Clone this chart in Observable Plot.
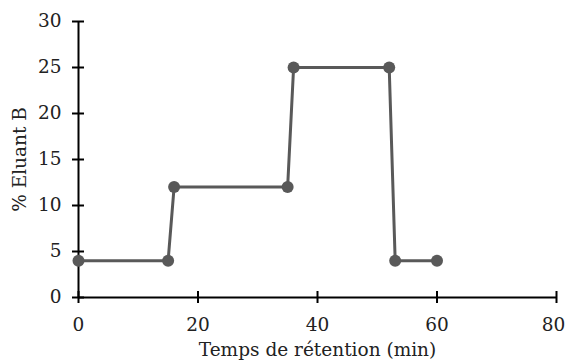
<!DOCTYPE html>
<html>
<head>
<meta charset="utf-8">
<script src="https://cdn.jsdelivr.net/npm/d3@7"></script>
<script src="https://cdn.jsdelivr.net/npm/@observablehq/plot@0.6"></script>
<style>
  html, body { margin: 0; padding: 0; background: #fff; }
  #chart svg text { font-family: "DejaVu Serif", serif; }
</style>
</head>
<body>
<div id="chart"></div>
<script>
const times = [0, 15, 16, 35, 36, 52, 53, 60];
const eluantB = [4, 4, 12, 12, 25, 25, 4, 4];
const xTicks = [0, 20, 40, 60, 80];
const yTicks = [0, 5, 10, 15, 20, 25, 30];

const data = times.map((t, i) => ({t, b: eluantB[i]}));
const fs = 18.5;

const chart = Plot.plot({
  width: 565,
  height: 361,
  marginLeft: 78,
  marginRight: 9,
  marginTop: 21,
  marginBottom: 64,
  style: {fontFamily: "DejaVu Serif", fontSize: fs + "px", color: "#222", background: "#fff"},
  x: {domain: [0, 80], ticks: xTicks},
  y: {domain: [0, 30], ticks: yTicks},
  marks: [
    Plot.ruleY([0], {stroke: "#000", strokeWidth: 2}),
    Plot.ruleX([0], {stroke: "#000", strokeWidth: 2}),
    Plot.ruleX(xTicks, {x: d => d, y1: 0, y2: 0, insetTop: -6, insetBottom: -6, stroke: "#000", strokeWidth: 2}),
    Plot.ruleY(yTicks, {y: d => d, x1: 0, x2: 0, insetLeft: -6, insetRight: -6, stroke: "#000", strokeWidth: 2}),
    Plot.axisX(xTicks.slice(0, -1), {tickSize: 0, tickPadding: 20, fontSize: fs, label: "Temps de rétention (min)", labelAnchor: "center", labelArrow: "none", labelOffset: 58}),
    Plot.axisX(xTicks.slice(-1), {tickSize: 0, tickPadding: 20, fontSize: fs, dx: -3, label: null}),
    Plot.axisY(yTicks, {tickSize: 0, tickPadding: 17, fontSize: fs, label: "% Eluant B", labelAnchor: "center", labelArrow: "none", labelOffset: 66}),
    Plot.line(data, {x: "t", y: "b", stroke: "#595959", strokeWidth: 3}),
    Plot.dot(data, {x: "t", y: "b", r: 6, fill: "#595959", stroke: "none"})
  ]
});
document.getElementById("chart").append(chart);
</script>
</body>
</html>
